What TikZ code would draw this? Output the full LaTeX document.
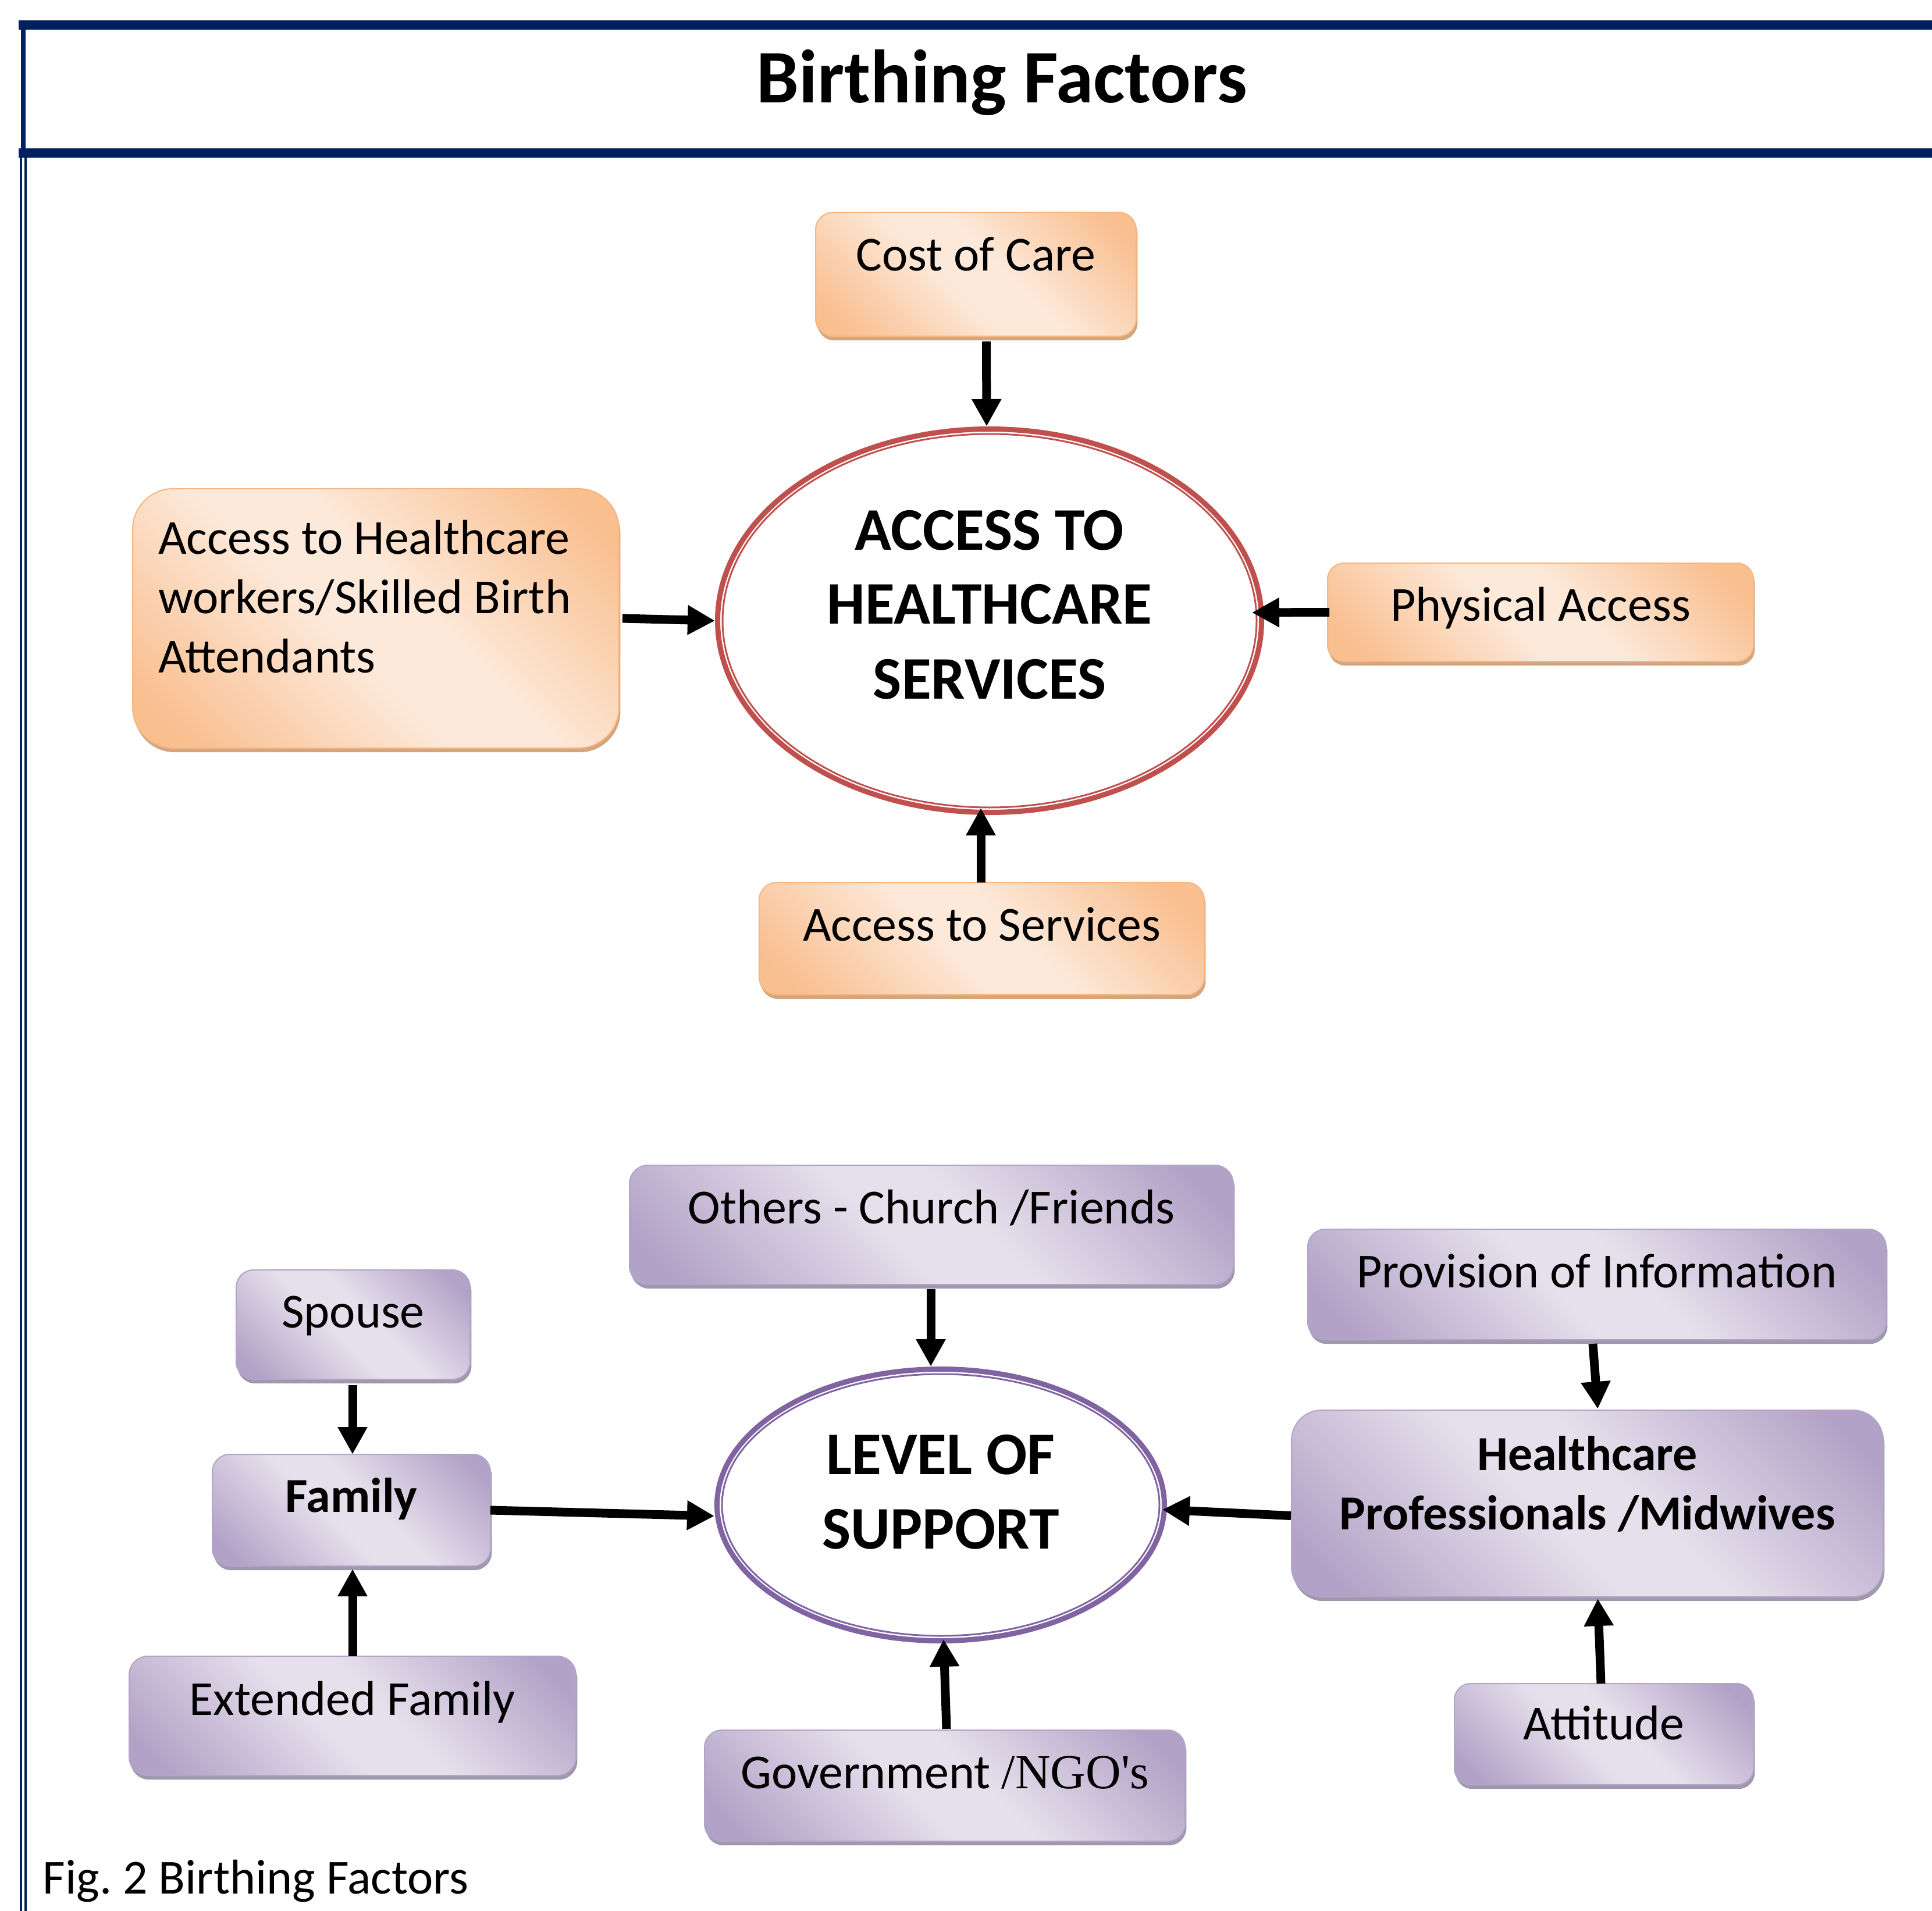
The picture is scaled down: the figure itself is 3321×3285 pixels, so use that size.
\documentclass[tikz,border=0pt]{standalone}
\usepackage{fontspec}
\setmainfont{Carlito}
\newfontfamily\gfont{Liberation Serif}
\usetikzlibrary{arrows.meta,shapes.geometric,shadows,calc}
\frenchspacing
\definecolor{navy}{HTML}{002060}
\definecolor{ered}{HTML}{C0504D}
\definecolor{epurple}{HTML}{8064A2}
\definecolor{odark}{HTML}{F9BF8F}
\definecolor{olight}{HTML}{FDE9DA}
\definecolor{oborder}{HTML}{F7B582}
\definecolor{oshadow}{HTML}{D3A680}
\definecolor{pdark}{HTML}{B3A2C7}
\definecolor{plight}{HTML}{E5E0EC}
\definecolor{pborder}{HTML}{B3A4C8}
\definecolor{pshadow}{HTML}{A098AC}
\pgfdeclareverticalshading{oshade}{100bp}{color(0bp)=(odark); color(20bp)=(odark); color(45bp)=(olight); color(55bp)=(olight); color(80bp)=(odark); color(100bp)=(odark)}
\pgfdeclareverticalshading{pshade}{100bp}{color(0bp)=(pdark); color(20bp)=(pdark); color(45bp)=(plight); color(55bp)=(plight); color(80bp)=(pdark); color(100bp)=(pdark)}
\tikzset{
  box/.style={rectangle, line width=0.5pt, inner sep=0pt, outer sep=0pt,
    font=\fontsize{21}{25.5}\selectfont, shade, shading angle=-45},
  obox/.style={box, draw=oborder, shading=oshade,
    drop shadow={shadow xshift=0.6pt, shadow yshift=-1.8pt, fill=oshadow, opacity=1}},
  pbox/.style={box, draw=pborder, shading=pshade,
    drop shadow={shadow xshift=0.6pt, shadow yshift=-1.8pt, fill=pshadow, opacity=1}},
  bigell/.style={ellipse, inner sep=0pt, line width=2.25pt, fill=white,
    font=\bfseries\fontsize{26}{32}\selectfont},
  arr/.style={line width=3.75pt, -{Triangle[width=12pt,length=11.75pt]}},
}
\begin{document}
\begin{tikzpicture}[x=0.25pt,y=-0.25pt]
\useasboundingbox (0,0) rectangle (3321,3285);
\fill[white] (0,0) rectangle (3321,3285);
% frame
\draw[navy, line width=4pt] (32,43) -- (3321,43);
\draw[navy, line width=4pt] (32,263) -- (3321,263);
\draw[navy, line width=2pt] (40,35) -- (40,271);
\draw[navy, line width=1pt] (36,271) -- (36,3285);
\draw[navy, line width=1pt] (44,271) -- (44,3285);
\node[font=\bfseries\fontsize{32.5}{39}\selectfont, anchor=base, inner sep=0pt] (title) at (1722,177) {Birthing Factors};

% upper group
\node[bigell, draw=ered, minimum width=233.75pt, minimum height=164.75pt,
  text height=20pt, text depth=81pt] (e1) at (1701,1067)
  {\begin{tabular}[t]{@{}c@{}}ACCESS TO\\HEALTHCARE\\SERVICES\end{tabular}};
\draw[ered, line width=0.75pt] (e1.center) ellipse [x radius=459, y radius=321];

\node[obox, minimum width=137.75pt, minimum height=53.25pt, rounded corners=7.5pt,
  text height=25.25pt, text depth=28pt] (cost) at (1677.5,471.5) {Cost of Care};
\node[obox, minimum width=209pt, minimum height=111.5pt, rounded corners=17.5pt,
  text height=28pt, text depth=83.5pt] (ahw) at (646,1063)
  {\makebox[209pt][l]{\hspace*{11pt}\begin{tabular}[t]{@{}l@{}}Access to Healthcare\\workers/Skilled Birth\\Attendants\end{tabular}}};
\node[obox, minimum width=183pt, minimum height=42.25pt, rounded corners=7pt,
  text height=24.75pt, text depth=17.5pt] (phys) at (2648,1052.5) {Physical Access};
\node[obox, minimum width=191.25pt, minimum height=48.25pt, rounded corners=7.5pt,
  text height=25pt, text depth=23.25pt] (svc) at (1687.5,1613.5) {Access to Services};

\draw[arr] ($(cost.south)+(18,9)$) -- ($(e1.north)+(-5,0)$);
\draw[arr] ($(ahw.east)+(6,0)$) -- (e1.west);
\draw[arr] ($(phys.west)+(3,0)$) -- ($(e1.east)+(-21,-14)$);
\draw[arr] ($(svc.north)+(-1.5,0)$) -- ($(e1.south)+(-15,-12)$);

% lower group
\node[bigell, draw=epurple, minimum width=192.25pt, minimum height=116.75pt,
  text height=20pt, text depth=46.5pt] (e2) at (1617,2587)
  {\begin{tabular}[t]{@{}c@{}}LEVEL OF\\SUPPORT\end{tabular}};
\draw[epurple, line width=0.75pt] (e2.center) ellipse [x radius=376, y radius=225];

\node[pbox, minimum width=259.5pt, minimum height=51.25pt, rounded corners=8pt,
  text height=25pt, text depth=26.25pt] (others) at (1601,2105.5) {Others - Church /Friends};
\node[pbox, minimum width=100.5pt, minimum height=47pt, rounded corners=7.5pt,
  text height=24.75pt, text depth=22.25pt] (spouse) at (607,2277) {Spouse};
\node[pbox, minimum width=119.5pt, minimum height=48pt, rounded corners=7.5pt,
  text height=24.75pt, text depth=23.25pt] (family) at (604,2596) {\bfseries Family};
\node[pbox, minimum width=192pt, minimum height=51.25pt, rounded corners=8pt,
  text height=25.25pt, text depth=26pt] (ext) at (606,2949.5) {Extended Family};
\node[pbox, minimum width=206.5pt, minimum height=47.75pt, rounded corners=7.5pt,
  text height=25pt, text depth=22.75pt] (gov) at (1624,3069.5) {Government {\gfont /NGO's}};
\node[pbox, minimum width=248.5pt, minimum height=47.5pt, rounded corners=7.5pt,
  text height=25pt, text depth=22.5pt] (prov) at (2745,2208) {Provision of Information};
\node[pbox, minimum width=254.25pt, minimum height=80.25pt, rounded corners=13pt,
  text height=25.75pt, text depth=54.5pt] (hp) at (2728.5,2584.5)
  {\bfseries\begin{tabular}[t]{@{}c@{}}Healthcare\\Professionals /Midwives\end{tabular}};
\node[pbox, minimum width=128.5pt, minimum height=43.5pt, rounded corners=7pt,
  text height=24pt, text depth=19.5pt] (att) at (2757,2981) {Attitude};

\draw[arr] ($(others.south)+(-1,8)$) -- ($(e2.north)+(-17,0)$);
\draw[arr] ($(spouse.south)+(-1,10)$) -- ($(family.north)+(2,0)$);
\draw[arr] (ext.north) -- ($(family.south)+(2,5)$);
\draw[arr] (family.east) -- ($(e2.west)+(0,19)$);
\draw[arr] ($(gov.north)+(3,-2)$) -- ($(e2.south)+(5,-7)$);
\draw[arr] ($(prov.south)+(-7,7)$) -- ($(hp.north)+(18,-2)$);
\draw[arr] ($(att.north)+(-5,0)$) -- ($(hp.south)+(18,3)$);
\draw[arr] ($(hp.west)+(-1,21)$) -- ($(e2.east)+(-8,8)$);

\node[font=\fontsize{21}{25.5}\selectfont, anchor=base west, inner sep=0pt] (caption) at (73,3255) {Fig.\ 2 Birthing Factors};
\end{tikzpicture}
\end{document}
